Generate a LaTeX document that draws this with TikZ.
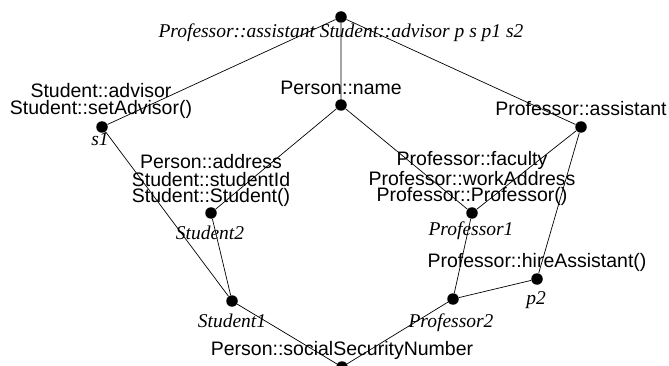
\documentclass[tikz,border=0pt]{standalone}
\usepackage{fontspec}
\setmainfont{Liberation Serif}
\setsansfont{Liberation Sans}
\begin{document}
\begin{tikzpicture}[x=1pt,y=-1pt,line width=0.7pt,
    pt/.style={circle,fill=black,inner sep=0pt,minimum size=11.5pt},
    feat/.style={font=\sffamily\fontsize{19.5}{17}\selectfont,align=center,anchor=base,inner sep=0pt},
    obj/.style={font=\itshape\fontsize{19.5}{17}\selectfont,anchor=base,inner sep=0pt}]
  \useasboundingbox (0,0) rectangle (669,366);
  % concepts of the lattice
  \node[pt] (top) at (341,17) {};
  \node[pt] (s1) at (102,127) {};
  \node[pt] (name) at (341,105) {};
  \node[pt] (asst) at (581,127) {};
  \node[pt] (stud2) at (211,213) {};
  \node[pt] (prof1) at (472,213) {};
  \node[pt] (p2) at (537,279) {};
  \node[pt] (stud1) at (232,301) {};
  \node[pt] (prof2) at (453,299) {};
  \node[pt] (bot) at (342,367) {};
  % edges
  \draw (top)--(s1) (top)--(name) (top)--(asst);
  \draw (s1)--(stud1) (name)--(stud2) (name)--(prof1);
  \draw (asst)--(prof1) (asst)--(p2);
  \draw (stud2)--(stud1) (prof1)--(prof2) (p2)--(prof2);
  \draw (stud1)--(bot) (prof2)--(bot);
  % attributes and methods (base = last line)
  \node[feat] (lname) at (341,95) {Person::name};
  \node[feat] (ls1) at (101,115) {Student::advisor\\Student::setAdvisor()};
  \node[feat] (lasst) at (581,116) {Professor::assistant};
  \node[feat] (lstud2) at (211,203) {Person::address\\Student::studentId\\Student::Student()};
  \node[feat] (lprof1) at (472,202) {Professor::faculty\\Professor::workAddress\\Professor::Professor()};
  \node[feat] (lp2) at (537,267) {Professor::hireAssistant()};
  \node[feat] (lbot) at (342,355) {Person::socialSecurityNumber};
  % objects
  \node[obj] (otop) at (341,38) {Professor::assistant Student::advisor p s p1 s2};
  \node[obj] (os1) at (100,146) {s1};
  \node[obj] (ostud2) at (210,240) {Student2};
  \node[obj] (oprof1) at (471,235) {Professor1};
  \node[obj] (op2) at (536,304) {p2};
  \node[obj] (ostud1) at (232,327) {Student1};
  \node[obj] (oprof2) at (451,327) {Professor2};
\end{tikzpicture}
\end{document}
